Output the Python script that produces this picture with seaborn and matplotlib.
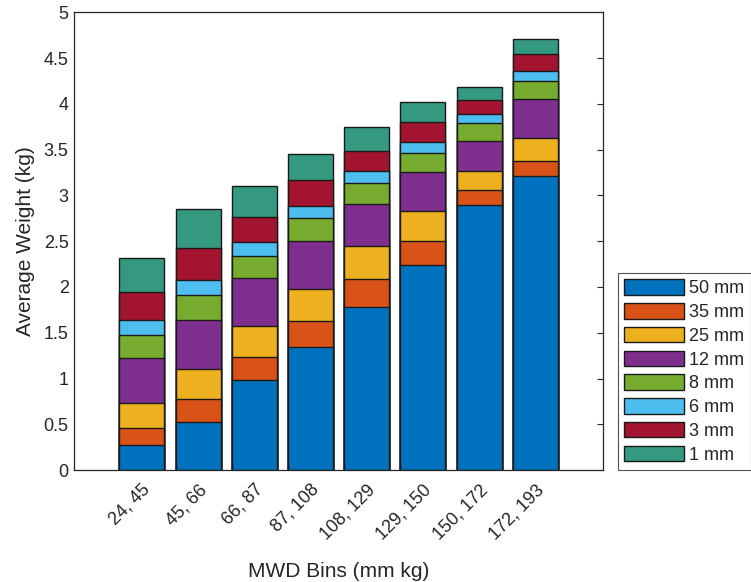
import numpy as np
import seaborn as sns
import matplotlib.pyplot as plt
from matplotlib.patches import Patch

# MWD bins and stacked layer weights (kg)
bins = ["24, 45", "45, 66", "66, 87", "87, 108", "108, 129", "129, 150", "150, 172", "172, 193"]
sizes = ["50 mm", "35 mm", "25 mm", "12 mm", "8 mm", "6 mm", "3 mm", "1 mm"]

w_50mm = [0.27, 0.525, 0.985, 1.342, 1.776, 2.24, 2.896, 3.209]
w_35mm = [0.19, 0.255, 0.255, 0.288, 0.306, 0.265, 0.164, 0.168]
w_25mm = [0.27, 0.32, 0.339, 0.343, 0.361, 0.321, 0.208, 0.252]
w_12mm = [0.49, 0.54, 0.514, 0.532, 0.467, 0.431, 0.328, 0.422]
w_8mm = [0.26, 0.27, 0.245, 0.245, 0.226, 0.204, 0.2, 0.205]
w_6mm = [0.16, 0.17, 0.149, 0.138, 0.134, 0.124, 0.099, 0.109]
w_3mm = [0.31, 0.346, 0.278, 0.277, 0.22, 0.219, 0.153, 0.186]
w_1mm = [0.37, 0.425, 0.342, 0.285, 0.26, 0.215, 0.135, 0.161]

colors = ["#0072BD", "#D95319", "#EDB120", "#7E2F8E", "#77AC30", "#4DBEEE", "#A2142F", "#35997F"]

layers = np.array([w_50mm, w_35mm, w_25mm, w_12mm, w_8mm, w_6mm, w_3mm, w_1mm])
cum = np.cumsum(layers, axis=0)

sns.set_theme(style="white")
plt.rcParams["font.family"] = ["Liberation Sans", "DejaVu Sans"]
plt.rcParams["xtick.direction"] = "in"
plt.rcParams["ytick.direction"] = "in"

fig = plt.figure(figsize=(7.51, 5.82), dpi=100)
ax = fig.add_axes([0.0989, 0.1924, 0.704, 0.7862])

# draw cumulative totals from the top layer down so lower layers cover upper ones
for i in range(len(sizes) - 1, -1, -1):
    sns.barplot(x=bins, y=cum[i], color=colors[i], saturation=1, width=0.8,
                edgecolor="#1a1a1a", linewidth=1.0, ax=ax)

ax.set_xlim(-1.2, 8.2)
ax.set_ylim(0, 5)
ax.set_yticks(np.arange(0, 5.01, 0.5))
ax.set_yticklabels(["0", "0.5", "1", "1.5", "2", "2.5", "3", "3.5", "4", "4.5", "5"])
ax.tick_params(axis="both", labelsize=13, length=4, width=0.8, color="#262626",
               labelcolor="#262626", top=True, right=True, pad=4)
ax.tick_params(axis="x", top=False, pad=8)
plt.setp(ax.get_xticklabels(), rotation=45, ha="right", rotation_mode="anchor")
for s in ax.spines.values():
    s.set_color("#262626")
    s.set_linewidth(0.9)

ax.set_xlabel("MWD Bins (mm kg)", fontsize=15, color="#262626", labelpad=14)
ax.set_ylabel("Average Weight (kg)", fontsize=15, color="#262626", labelpad=6)

handles = [Patch(facecolor=c, edgecolor="#1a1a1a", linewidth=1.0) for c in colors]
leg = fig.legend(handles, sizes, loc="upper left", bbox_to_anchor=(0.823, 0.531),
                 fontsize=13, frameon=True, fancybox=False, handlelength=3.3,
                 handleheight=0.95, labelspacing=0.32, handletextpad=0.3,
                 borderpad=0.35, borderaxespad=0)
leg.get_frame().set_edgecolor("#262626")
leg.get_frame().set_linewidth(0.8)
for t in leg.get_texts():
    t.set_color("#262626")

fig.savefig("out.png", dpi=100, facecolor="white")
